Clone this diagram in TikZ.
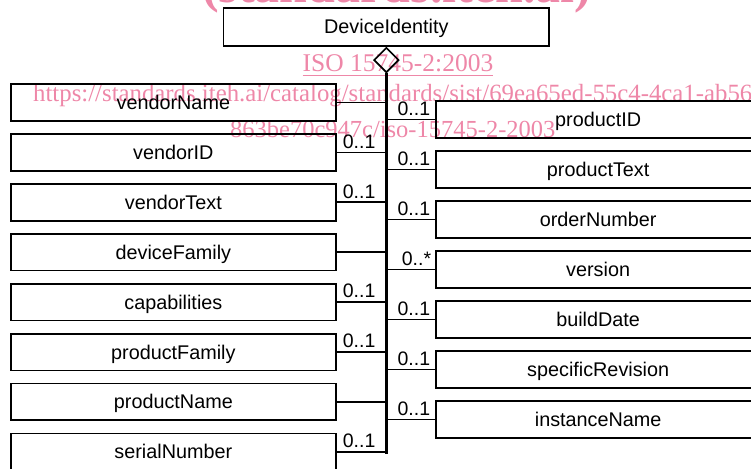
\documentclass[tikz,border=0pt]{standalone}
\usepackage{fontspec}
\setmainfont{Liberation Serif}
\newfontfamily\arialf{Liberation Sans}
\usetikzlibrary{shapes.geometric,calc}
\definecolor{wm}{RGB}{238,135,168}
\begin{document}
\begin{tikzpicture}[x=1pt,y=-1pt,
  box/.style={draw, line width=1.7pt, inner sep=0pt, minimum height=36.7pt,
    text height=14pt, text depth=0pt, font=\arialf\fontsize{19.8}{20}\selectfont},
  lbox/.style={box, minimum width=325pt, anchor=north west},
  rbox/.style={box, minimum width=324pt, minimum height=37.3pt, anchor=north west},
  conn/.style={line width=1.8pt},
  spine/.style={line width=2.6pt},
  lbl/.style={inner sep=0pt, text height=14pt, text depth=0pt, font=\arialf\fontsize{19.5}{20}\selectfont},
  wmark/.style={text=wm, inner sep=0pt, anchor=base west}]
\useasboundingbox (0,0) rectangle (751,468);
\clip (0,0) rectangle (751,468);
% watermark
\node[wmark, font=\bfseries\fontsize{50}{50}\selectfont] (w0) at (202,3) {(standards.iteh.ai)};
\node[wmark, anchor=base, font=\fontsize{25.5}{26}\selectfont] (w1) at (398,72) {ISO 15745-2:2003};
\draw[wm, line width=1pt] ($(w1.base west)+(0,4)$) -- ($(w1.base east)+(0,4)$);
\node[wmark, font=\fontsize{24.8}{25}\selectfont] (w2) at (33,101.7) {https://standards.iteh.ai/catalog/standards/sist/69ea65ed-55c4-4ca1-ab56-};
\node[wmark, font=\fontsize{24.5}{25}\selectfont] (w3) at (230,137.5) {863be70c947c/iso-15745-2-2003};
% diagram
\node[box, minimum width=325.6pt, minimum height=37.7pt, anchor=north west] (di) at (222.7,7.3) {DeviceIdentity};
\node[draw, diamond, line width=1.7pt, inner sep=0pt, minimum width=25pt, minimum height=25pt, anchor=north] (dia) at (di.south) {};
\path (dia.south) ++(0,381) coordinate (bot);
\draw[spine] (dia.south) -- (bot);
\foreach \t [count=\i from 0] in {vendorName,vendorID,vendorText,deviceFamily,capabilities,productFamily,productName,serialNumber} {
  \node[lbox] (L\i) at (10,83.3+49.9*\i) {\t};
  \draw[conn] (L\i.east) -- (L\i.east -| bot);
}
\foreach \i in {1,2,4,5,7} {
  \node[lbl, anchor=south west, xshift=6pt, yshift=4pt] (LL\i) at (L\i.east) {0..1};
}
\foreach \t [count=\i from 0] in {productID,productText,orderNumber,version,buildDate,specificRevision,instanceName} {
  \node[rbox] (R\i) at (435.3,100+50*\i) {\t};
  \draw[conn] (R\i.west -| bot) -- (R\i.west);
}
\foreach \i in {0,1,2,4,5,6} {
  \node[lbl, anchor=south east, xshift=-5pt, yshift=4pt] (RL\i) at (R\i.west) {0..1};
}
\node[lbl, anchor=south east, xshift=-4pt, yshift=4pt] (RL3) at (R3.west) {0..*};
\end{tikzpicture}
\end{document}
